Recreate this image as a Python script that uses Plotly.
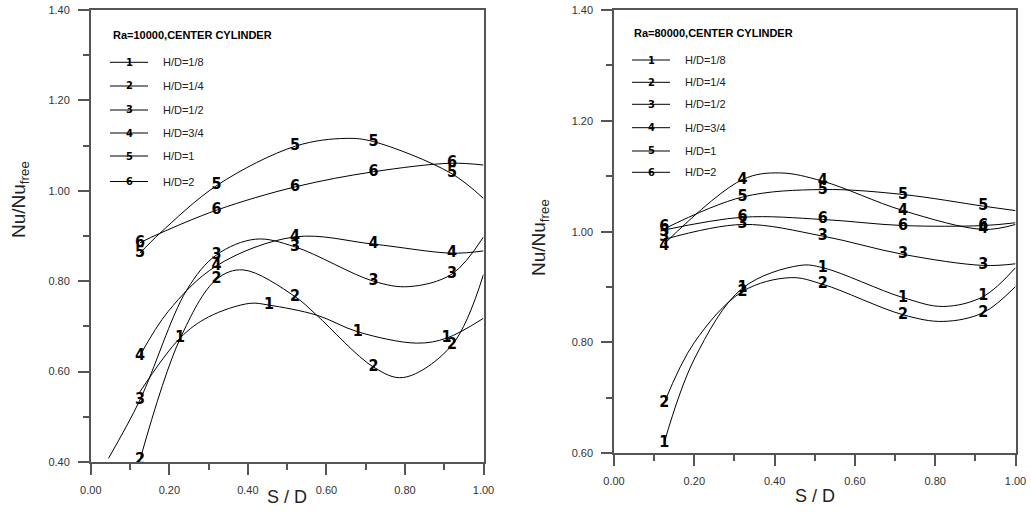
import plotly.graph_objects as go

W, H = 1031, 517

# ---------------- data ----------------
labels = ["1", "2", "3", "4", "5", "6"]
legend_names = ["H/D=1/8", "H/D=1/4", "H/D=1/2", "H/D=3/4", "H/D=1", "H/D=2"]

# Left panel: Ra=10000
L_curve_x = [
    [0.125, 0.227, 0.30, 0.405, 0.454, 0.575, 0.68, 0.83, 0.906, 1.0],
    [0.125, 0.227, 0.32, 0.388, 0.52, 0.575, 0.72, 0.796, 0.92, 1.0],
    [0.045, 0.125, 0.244, 0.32, 0.42, 0.52, 0.72, 0.81, 0.92, 1.0],
    [0.125, 0.197, 0.32, 0.52, 0.72, 0.92, 1.0],
    [0.125, 0.176, 0.323, 0.522, 0.65, 0.719, 0.917, 1.0],
    [0.125, 0.176, 0.323, 0.522, 0.719, 0.917, 1.0],
]
L_curve_y = [
    [0.555, 0.674, 0.721, 0.751, 0.747, 0.725, 0.688, 0.663, 0.674, 0.718],
    [0.404, 0.672, 0.804, 0.825, 0.766, 0.725, 0.610, 0.587, 0.659, 0.815],
    [0.408, 0.537, 0.780, 0.858, 0.893, 0.876, 0.800, 0.788, 0.816, 0.898],
    [0.635, 0.733, 0.834, 0.898, 0.882, 0.862, 0.867],
    [0.862, 0.906, 1.013, 1.099, 1.116, 1.109, 1.039, 0.983],
    [0.885, 0.906, 0.958, 1.009, 1.042, 1.061, 1.057],
]
L_mark_x = [
    [0.227, 0.454, 0.68, 0.906],
    [0.125, 0.32, 0.52, 0.72, 0.92],
    [0.125, 0.32, 0.52, 0.72, 0.92],
    [0.125, 0.32, 0.52, 0.72, 0.92],
    [0.125, 0.32, 0.52, 0.72, 0.92],
    [0.125, 0.32, 0.52, 0.72, 0.92],
]
L_mark_y = [
    [0.674, 0.747, 0.688, 0.674],
    [0.404, 0.804, 0.766, 0.610, 0.659],
    [0.537, 0.858, 0.876, 0.800, 0.816],
    [0.635, 0.834, 0.898, 0.882, 0.862],
    [0.862, 1.013, 1.099, 1.109, 1.039],
    [0.885, 0.958, 1.009, 1.042, 1.061],
]

# Right panel: Ra=80000
R_curve_x = [
    [0.125, 0.2, 0.32, 0.463, 0.52, 0.72, 0.82, 0.92, 1.0],
    [0.125, 0.2, 0.32, 0.44, 0.52, 0.72, 0.82, 0.92, 1.0],
    [0.125, 0.32, 0.52, 0.72, 0.92, 1.0],
    [0.125, 0.32, 0.413, 0.52, 0.72, 0.92, 1.0],
    [0.125, 0.32, 0.52, 0.72, 0.92, 1.0],
    [0.125, 0.32, 0.52, 0.72, 0.92, 1.0],
]
R_curve_y = [
    [0.619, 0.770, 0.898, 0.939, 0.935, 0.881, 0.865, 0.883, 0.935],
    [0.691, 0.800, 0.892, 0.917, 0.905, 0.850, 0.838, 0.854, 0.901],
    [0.986, 1.013, 0.992, 0.959, 0.939, 0.942],
    [0.978, 1.094, 1.106, 1.091, 1.038, 1.004, 1.013],
    [1.005, 1.0625, 1.076, 1.067, 1.046, 1.038],
    [1.003, 1.026, 1.022, 1.011, 1.011, 1.016],
]
R_mark_x = [[0.125, 0.32, 0.52, 0.72, 0.92]] * 6
R_mark_y = [
    [0.619, 0.898, 0.935, 0.881, 0.883],
    [0.691, 0.892, 0.905, 0.850, 0.854],
    [0.990, 1.013, 0.992, 0.959, 0.939],
    [0.975, 1.094, 1.091, 1.038, 1.004],
    [1.000, 1.0625, 1.076, 1.067, 1.046],
    [1.008, 1.026, 1.022, 1.011, 1.011],
]

x_ticks = [0.0, 0.2, 0.4, 0.6, 0.8, 1.0]
L_y_ticks = [0.4, 0.6, 0.8, 1.0, 1.2, 1.4]
R_y_ticks = [0.6, 0.8, 1.0, 1.2, 1.4]

# ---------------- styling ----------------
NUM_FONT = "DejaVu Sans Condensed, Liberation Sans Narrow, sans-serif"
TXT_FONT = "Liberation Sans, Arial, sans-serif"
AX = "#555555"


def px(x):
    return x / W


def py(y):
    return 1 - y / H


fig = go.Figure()

panels = [
    ("x", "y", L_curve_x, L_curve_y, L_mark_x, L_mark_y),
    ("x2", "y2", R_curve_x, R_curve_y, R_mark_x, R_mark_y),
]
for xa, ya, cx, cy, mx, my in panels:
    for i in range(6):
        fig.add_trace(go.Scatter(
            x=cx[i], y=cy[i], mode="lines", xaxis=xa, yaxis=ya,
            line=dict(color="black", width=1, shape="spline", smoothing=1.0),
            showlegend=False, hoverinfo="skip"))
    for i in range(6):
        fig.add_trace(go.Scatter(
            x=mx[i], y=my[i], mode="text", xaxis=xa, yaxis=ya,
            text=[f"<b>{labels[i]}</b>"] * len(mx[i]),
            textposition="middle center",
            textfont=dict(family=NUM_FONT, size=16, color="black"),
            showlegend=False, hoverinfo="skip"))

common_x = dict(range=[0, 1], tickvals=x_ticks, tickformat=".2f", ticks="outside",
                ticklen=11, tickwidth=1.5, tickcolor=AX, showline=True, linecolor=AX,
                linewidth=1.5, mirror=True, showgrid=False, zeroline=False,
                automargin=False,
                minor=dict(dtick=0.1, ticks="outside", ticklen=6, tickwidth=1.5, tickcolor=AX),
                tickfont=dict(family=TXT_FONT, size=11, color="#333333"),
                ticklabelstandoff=6)
common_y = dict(tickformat=".2f", ticks="outside", ticklen=11, tickwidth=1.5,
                tickcolor=AX, showline=True, linecolor=AX, linewidth=1.5, mirror=True,
                showgrid=False, zeroline=False, automargin=False,
                minor=dict(dtick=0.1, ticks="outside", ticklen=6, tickwidth=1.5, tickcolor=AX),
                tickfont=dict(family=TXT_FONT, size=11, color="#333333"),
                ticklabelstandoff=6)

fig.update_layout(
    width=W, height=H, margin=dict(l=0, r=0, t=0, b=0, autoexpand=False),
    paper_bgcolor="white", plot_bgcolor="white", showlegend=False,
    xaxis=dict(domain=[px(90.8), px(483.5)], anchor="y", **common_x),
    yaxis=dict(domain=[py(462), py(10)], anchor="x", range=[0.4, 1.4],
               tickvals=L_y_ticks, **common_y),
    xaxis2=dict(domain=[px(614), px(1015.5)], anchor="y2", **common_x),
    yaxis2=dict(domain=[py(453.3), py(10)], anchor="x2", range=[0.6, 1.4],
                tickvals=R_y_ticks, **common_y),
)

annotations = []
shapes = []

# axis titles
for cx_, cy_ in [(287, 497), (815, 496)]:
    annotations.append(dict(x=px(cx_), y=py(cy_), xref="paper", yref="paper",
                            text="S / D", showarrow=False,
                            font=dict(family=TXT_FONT, size=18, color="#222222"),
                            xanchor="center", yanchor="middle"))
for cx_, cy_ in [(20, 200), (540, 238)]:
    annotations.append(dict(x=px(cx_), y=py(cy_), xref="paper", yref="paper",
                            text="Nu/Nu<sub>free</sub>", showarrow=False, textangle=-90,
                            font=dict(family=TXT_FONT, size=19, color="#222222"),
                            xanchor="center", yanchor="middle"))

# in-plot legends
legend_specs = [
    ("Ra=10000,CENTER CYLINDER", 110.5, 35, 110, 148, 161,
     [62.3, 86, 110, 133, 156, 181.5]),
    ("Ra=80000,CENTER CYLINDER", 631.5, 33.5, 632, 670, 683,
     [60, 82.3, 104.3, 127.7, 151, 172.3]),
]
for title, tx, ty, lx0, lx1, txx, ys in legend_specs:
    annotations.append(dict(x=px(tx), y=py(ty), xref="paper", yref="paper",
                            text=f"<b>{title}</b>", showarrow=False,
                            font=dict(family=TXT_FONT, size=11, color="black"),
                            xanchor="left", yanchor="middle"))
    for i, yy in enumerate(ys):
        shapes.append(dict(type="line", xref="paper", yref="paper",
                           x0=px(lx0), x1=px(lx1), y0=py(yy), y1=py(yy),
                           line=dict(color="black", width=1)))
        annotations.append(dict(x=px((lx0 + lx1) / 2), y=py(yy), xref="paper", yref="paper",
                                text=f"<b>{labels[i]}</b>", showarrow=False,
                                font=dict(family=NUM_FONT, size=11, color="black"),
                                xanchor="center", yanchor="middle"))
        annotations.append(dict(x=px(txx), y=py(yy), xref="paper", yref="paper",
                                text=legend_names[i], showarrow=False,
                                font=dict(family=TXT_FONT, size=11, color="#222222"),
                                xanchor="left", yanchor="middle"))

fig.update_layout(annotations=annotations, shapes=shapes)
fig.write_html("out.html")
